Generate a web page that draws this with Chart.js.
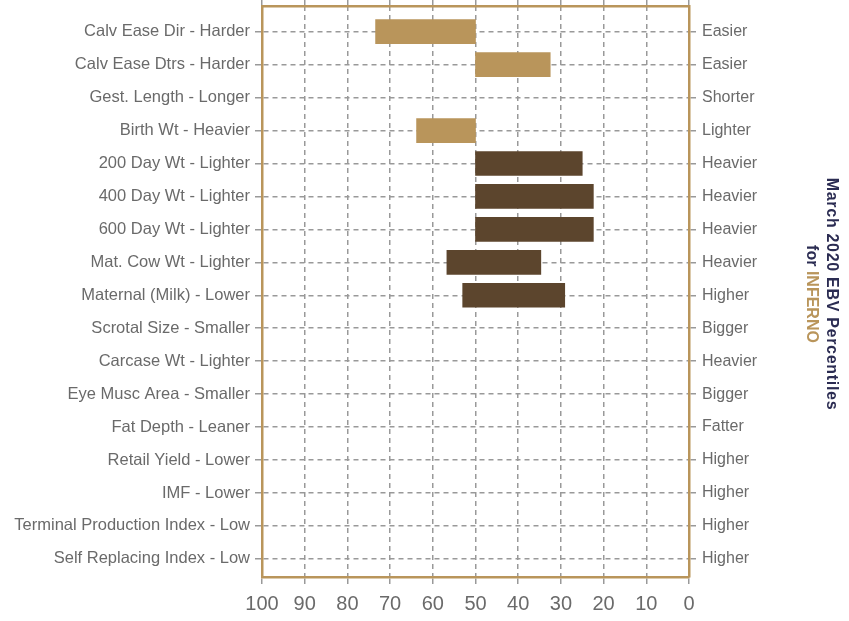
<!DOCTYPE html>
<html>
<head>
<meta charset="utf-8">
<script src="https://cdn.jsdelivr.net/npm/chart.js@4.4.1/dist/chart.umd.min.js"></script>
<style>
  html, body { margin: 0; padding: 0; background: #ffffff; }
  #wrap { width: 849px; height: 621px; }
</style>
</head>
<body>
<div id="wrap"><canvas id="ebvChart" width="849" height="621"></canvas></div>
<script>
// traits, low side (left) and high side (right)
const categories = [
  'Calv Ease Dir - Harder', 'Calv Ease Dtrs - Harder', 'Gest. Length - Longer', 'Birth Wt - Heavier',
  '200 Day Wt - Lighter', '400 Day Wt - Lighter', '600 Day Wt - Lighter', 'Mat. Cow Wt - Lighter',
  'Maternal (Milk) - Lower', 'Scrotal Size - Smaller', 'Carcase Wt - Lighter', 'Eye Musc Area - Smaller',
  'Fat Depth - Leaner', 'Retail Yield - Lower', 'IMF - Lower', 'Terminal Production Index - Low',
  'Self Replacing Index - Low'
];
const rightLabels = [
  'Easier', 'Easier', 'Shorter', 'Lighter', 'Heavier', 'Heavier', 'Heavier', 'Heavier',
  'Higher', 'Bigger', 'Heavier', 'Bigger', 'Fatter', 'Higher', 'Higher', 'Higher', 'Higher'
];
// percentile bars: start at 50, end at the animal's percentile (null = no bar)
const barStart = [50, 50, null, 50, 50, 50, 50, 56.7, 53, null, null, null, null, null, null, null, null];
const barEnd   = [73.4, 32.5, null, 63.8, 25, 22.4, 22.4, 34.7, 29.1, null, null, null, null, null, null, null, null];
// calving traits drawn tan, the rest dark brown
const barGroup = ['c', 'c', 'c', 'c', 'g', 'g', 'g', 'g', 'g', 'g', 'g', 'g', 'g', 'g', 'g', 'g', 'g'];
const xTicks = [100, 90, 80, 70, 60, 50, 40, 30, 20, 10, 0];

const TAN = '#b9955b';
const BROWN = '#5c452d';
const NAVY = '#2b2c52';
const GRID = '#999999';
const TEXT = '#6a6a6a';
const FONT = '"Liberation Sans", Arial, sans-serif';

const points = [];
const colors = [];
categories.forEach((c, i) => {
    if (barStart[i] === null) return;
    points.push({ x: [barStart[i], barEnd[i]], y: i });
    colors.push(barGroup[i] === 'c' ? TAN : BROWN);
});

const rowTicks = scale => {
    scale.ticks = categories.map((c, i) => ({ value: i }));
};
// fixed axis sizes, no extra padding for edge labels
const fixWidth = w => s => {
    s.width = w;
    s.paddingTop = 0;
    s.paddingBottom = 0;
};
const fixHeight = h => s => {
    s.height = h;
    s.paddingLeft = 0;
    s.paddingRight = 0;
};

const sideTitle = {
    id: 'sideTitle',
    afterDraw(chart) {
        const ctx = chart.ctx;
        ctx.save();
        ctx.font = 'bold 16px ' + FONT;
        ctx.textBaseline = 'middle';
        ctx.translate(831, 294);
        ctx.rotate(Math.PI / 2);
        ctx.fillStyle = NAVY;
        ctx.textAlign = 'center';
        ctx.letterSpacing = '0.7px';
        ctx.fillText('March 2020 EBV Percentiles', 0, 0);
        ctx.letterSpacing = '0px';
        const a = 'for ';
        const b = 'INFERNO';
        const wa = ctx.measureText(a).width;
        const wb = ctx.measureText(b).width;
        ctx.textAlign = 'left';
        const sx = -(wa + wb) / 2;
        ctx.fillText(a, sx, 20);
        ctx.fillStyle = TAN;
        ctx.fillText(b, sx + wa, 20);
        ctx.restore();
    }
};

const gridStyle = {
    color: GRID,
    lineWidth: 1.5,
    tickLength: 7,
    tickColor: GRID
};
const frame = { display: true, color: TAN, width: 2.5, dash: [5, 4] };

new Chart(document.getElementById('ebvChart'), {
    type: 'bar',
    data: {
        datasets: [{
            label: 'EBV Percentile',
            data: points,
            backgroundColor: colors,
            borderWidth: 0,
            barThickness: 24
        }]
    },
    options: {
        indexAxis: 'y',
        responsive: false,
        animation: false,
        layout: { padding: 0 },
        plugins: {
            legend: { display: false },
            tooltip: { enabled: false }
        },
        scales: {
            x: {
                type: 'linear',
                position: 'bottom',
                reverse: true,
                min: 0,
                max: 100,
                afterBuildTicks: s => { s.ticks = xTicks.map(v => ({ value: v })); },
                afterFit: fixHeight(44),
                grid: { ...gridStyle },
                border: frame,
                ticks: {
                    color: TEXT,
                    padding: 8,
                    maxRotation: 0,
                    autoSkip: false,
                    font: { family: FONT, size: 20 }
                }
            },
            xTop: {
                type: 'linear',
                position: 'top',
                reverse: true,
                min: 0,
                max: 100,
                afterBuildTicks: s => { s.ticks = xTicks.map(v => ({ value: v })); },
                afterFit: fixHeight(6),
                grid: { ...gridStyle, drawOnChartArea: false },
                border: frame,
                ticks: { display: false }
            },
            y: {
                type: 'linear',
                position: 'left',
                reverse: true,
                offset: false,
                min: -0.78,
                max: 16.55,
                afterBuildTicks: rowTicks,
                afterFit: fixWidth(262),
                grid: { ...gridStyle, offset: false },
                border: frame,
                ticks: {
                    color: TEXT,
                    padding: 5,
                    autoSkip: false,
                    callback: v => categories[v],
                    font: { family: FONT, size: 16.5 }
                }
            },
            y2: {
                type: 'linear',
                position: 'right',
                reverse: true,
                offset: false,
                min: -0.78,
                max: 16.55,
                afterBuildTicks: rowTicks,
                afterFit: fixWidth(160),
                grid: { ...gridStyle, offset: false, drawOnChartArea: false },
                border: frame,
                ticks: {
                    color: TEXT,
                    padding: 6,
                    autoSkip: false,
                    callback: v => rightLabels[v],
                    font: { family: FONT, size: 16 }
                }
            }
        }
    },
    plugins: [sideTitle]
});
</script>
</body>
</html>
